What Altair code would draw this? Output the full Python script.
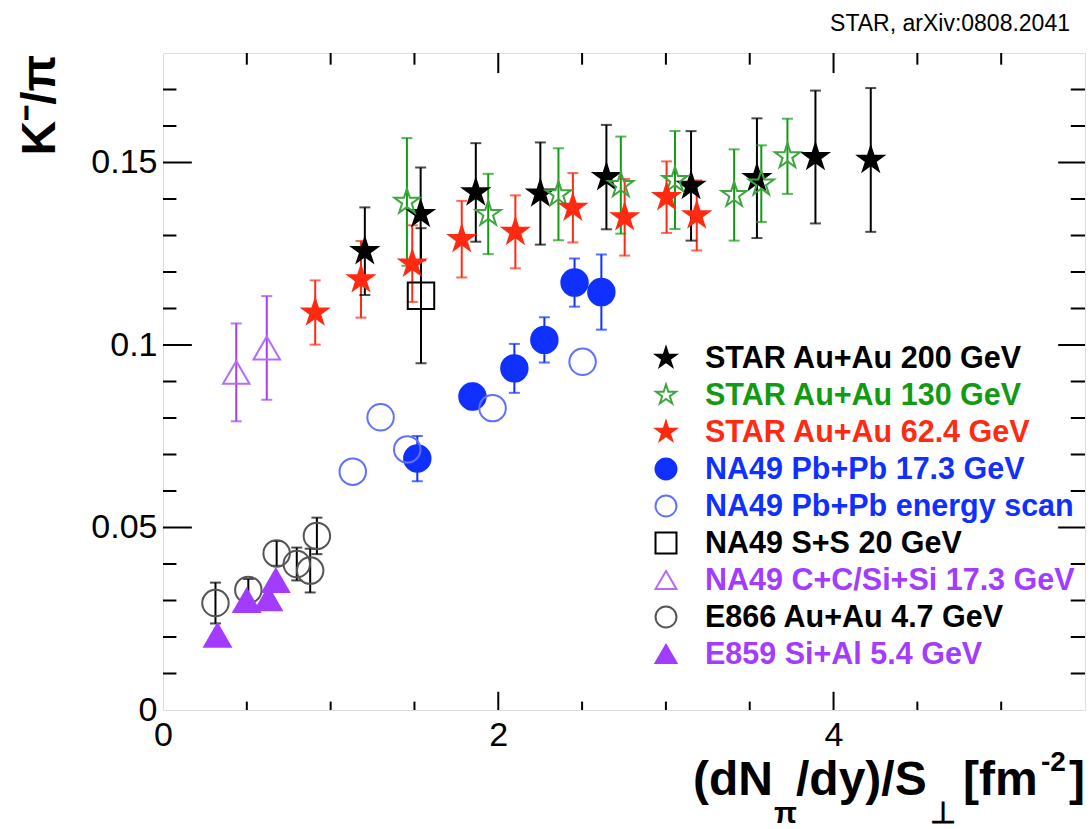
import altair as alt
import pandas as pd

# ---------------- data ----------------
series_names = [
    "STAR Au+Au 200 GeV",
    "STAR Au+Au 130 GeV",
    "STAR Au+Au 62.4 GeV",
    "NA49 Pb+Pb 17.3 GeV",
    "NA49 Pb+Pb energy scan",
    "NA49 S+S 20 GeV",
    "NA49 C+C/Si+Si 17.3 GeV",
    "E866 Au+Au 4.7 GeV",
    "E859 Si+Al 5.4 GeV",
]

star200_x = [1.204, 1.537, 1.866, 2.251, 2.645, 3.150, 3.543, 3.892, 4.222]
star200_y = [0.1257, 0.1359, 0.1418, 0.1415, 0.1460, 0.1436, 0.1457, 0.1515, 0.1507]
star200_e = [0.0120, 0.0127, 0.0135, 0.0140, 0.0143, 0.0150, 0.0164, 0.0182, 0.0197]

star130_x = [1.455, 1.940, 2.359, 2.731, 3.054, 3.407, 3.569, 3.725]
star130_y = [0.1392, 0.1359, 0.1413, 0.1438, 0.1452, 0.1411, 0.1442, 0.1517]
star130_e = [0.0175, 0.0110, 0.0126, 0.0133, 0.0134, 0.0125, 0.0105, 0.0103]

star62_x = [0.908, 1.181, 1.487, 1.782, 2.102, 2.445, 2.754, 3.004, 3.184]
star62_y = [0.1089, 0.1180, 0.1223, 0.1290, 0.1310, 0.1376, 0.1350, 0.1405, 0.1355]
star62_e = [0.0088, 0.0105, 0.0105, 0.0105, 0.0100, 0.0095, 0.0105, 0.0098, 0.0096]

na49pb_x = [1.517, 1.846, 2.096, 2.275, 2.455, 2.615]
na49pb_y = [0.0689, 0.0859, 0.0936, 0.1014, 0.1171, 0.1145]
na49pb_e = [0.0062, 0.0035, 0.0067, 0.0062, 0.0066, 0.0103]

scan_x = [1.132, 1.298, 1.457, 1.966, 2.503]
scan_y = [0.0653, 0.0802, 0.0714, 0.0827, 0.0954]
scan_e = [0, 0, 0, 0, 0]

ss_x = [1.539]
ss_y = [0.1135]
ss_e = [0.0185]

cc_x = [0.437, 0.619]
cc_y = [0.0925, 0.0992]
cc_e = [0.0134, 0.0142]

e866_x = [0.313, 0.509, 0.678, 0.798, 0.878, 0.918]
e866_y = [0.0293, 0.0329, 0.0429, 0.0400, 0.0382, 0.0477]
e866_e = [0.0056, 0.0030, 0.0034, 0.0045, 0.0060, 0.0050]

e859_x = [0.325, 0.499, 0.629, 0.673]
e859_y = [0.0205, 0.0300, 0.0305, 0.0355]
e859_e = [0, 0, 0, 0]

x_label_values = [0, 2, 4]
y_label_values = [0, 0.05, 0.1, 0.15]
x_major_ticks = [2, 4]
x_minor_ticks = [0.5, 1.0, 1.5, 2.5, 3.0, 3.5, 4.5, 5.0]
y_major_ticks = [0.05, 0.10, 0.15]
y_minor_ticks = [0.01, 0.02, 0.03, 0.04, 0.06, 0.07, 0.08, 0.09,
                 0.11, 0.12, 0.13, 0.14, 0.16, 0.17]

# ---------------- styles ----------------
STAR_PATH = ("M0,-1L0.2245,-0.309L0.951,-0.309L0.363,0.118L0.588,0.809L0,0.382"
             "L-0.588,0.809L-0.363,0.118L-0.951,-0.309L-0.2245,-0.309Z")
shapes = [STAR_PATH, STAR_PATH, STAR_PATH, "circle", "circle", "square",
          "triangle-up", "circle", "triangle-up"]
fills = ["#000000", "transparent", "#ff2a12", "#1030ff", "transparent",
         "transparent", "transparent", "transparent", "#a23cff"]
strokes = ["#000000", "#3fa53f", "#ff2a12", "#1030ff", "#6070ff",
           "#000000", "#b46cff", "#555555", "#a23cff"]
sizes = [700, 700, 700, 900, 900, 676, 760, 800, 841]
series_colors = ["#000000", "#139a13", "#ff2a12", "#1030ff", "#1030ff",
                 "#000000", "#a23cff", "#000000", "#a23cff"]

FONT = "Liberation Sans"

# ---------------- table ----------------
groups = [
    (star200_x, star200_y, star200_e), (star130_x, star130_y, star130_e),
    (star62_x, star62_y, star62_e), (na49pb_x, na49pb_y, na49pb_e),
    (scan_x, scan_y, scan_e), (ss_x, ss_y, ss_e), (cc_x, cc_y, cc_e),
    (e866_x, e866_y, e866_e), (e859_x, e859_y, e859_e),
]
rows = []
for name, (xs, ys, es) in zip(series_names, groups):
    for xv, yv, ev in zip(xs, ys, es):
        rows.append({"series": name, "x": xv, "y": yv, "lo": yv - ev,
                     "hi": yv + ev, "err": ev})
df = pd.DataFrame(rows)
err_df = df[df["err"] > 0]

xscale = alt.Scale(domain=[0, 5.5], nice=False, zero=False)
yscale = alt.Scale(domain=[0, 0.18], nice=False, zero=False)

x_axis = alt.Axis(values=x_label_values, title=None, ticks=False, domain=False,
                  grid=False, format="d", labelFont=FONT, labelFontSize=34,
                  labelColor="black", labelPadding=8, labelFlush=False)
y_axis = alt.Axis(values=y_label_values, title=None, ticks=False, domain=False,
                  grid=False, format="~g", labelFont=FONT, labelFontSize=34,
                  labelColor="black", labelPadding=6, labelFlush=False)

color_enc = alt.Color("series:N",
                      scale=alt.Scale(domain=series_names, range=series_colors),
                      legend=None)
shape_enc = alt.Shape("series:N", scale=alt.Scale(domain=series_names, range=shapes),
                      legend=None)
fill_enc = alt.Fill("series:N", scale=alt.Scale(domain=series_names, range=fills),
                    legend=None)
stroke_enc = alt.Stroke("series:N", scale=alt.Scale(domain=series_names, range=strokes),
                        legend=None)

base_err = alt.Chart(err_df)
stems = base_err.mark_rule(strokeWidth=2).encode(
    x=alt.X("x:Q", scale=xscale, axis=x_axis),
    y=alt.Y("lo:Q", scale=yscale, axis=y_axis),
    y2="hi:Q",
    color=color_enc,
)
caps_lo = base_err.mark_tick(orient="horizontal", size=11, thickness=2).encode(
    x="x:Q", y="lo:Q", color=color_enc)
caps_hi = base_err.mark_tick(orient="horizontal", size=11, thickness=2).encode(
    x="x:Q", y="hi:Q", color=color_enc)

points = alt.Chart(df).mark_point(strokeWidth=2, opacity=1).encode(
    x="x:Q",
    y="y:Q",
    shape=shape_enc,
    fill=fill_enc,
    stroke=stroke_enc,
    size=alt.Size("series:N", scale=alt.Scale(domain=series_names, range=sizes),
                  legend=None),
)


# ---------------- inward ticks on all four sides ----------------
def xticks(vals, length, top):
    d = pd.DataFrame({"v": vals})
    if top:
        return alt.Chart(d).mark_rule(color="black", strokeWidth=2).encode(
            x="v:Q", y=alt.datum(0.18), y2=alt.datum(0.18 - length))
    return alt.Chart(d).mark_rule(color="black", strokeWidth=2).encode(
        x="v:Q", y=alt.datum(0), y2=alt.datum(length))


def yticks(vals, length, right):
    d = pd.DataFrame({"v": vals})
    if right:
        return alt.Chart(d).mark_rule(color="black", strokeWidth=2).encode(
            y="v:Q", x=alt.datum(5.5), x2=alt.datum(5.5 - length))
    return alt.Chart(d).mark_rule(color="black", strokeWidth=2).encode(
        y="v:Q", x=alt.datum(0), x2=alt.datum(length))


ticks = [
    xticks(x_major_ticks, 0.0050, False), xticks(x_minor_ticks, 0.0023, False),
    xticks(x_major_ticks, 0.0055, True), xticks(x_minor_ticks, 0.0032, True),
    yticks(y_major_ticks, 0.172, False), yticks(y_minor_ticks, 0.080, False),
    yticks(y_major_ticks, 0.160, True), yticks(y_minor_ticks, 0.085, True),
]

data_layer = alt.layer(stems, caps_lo, caps_hi, points, *ticks)

# ---------------- legend (inside the frame, coloured labels) ----------------
leg_df = pd.DataFrame({"series": series_names})
leg_y = alt.Y("series:N", axis=None,
              scale=alt.Scale(type="point", domain=series_names,
                              range=[305, 601], padding=0))
leg_pts = alt.Chart(leg_df).mark_point(strokeWidth=2, opacity=1, size=440).encode(
    x=alt.value(503), y=leg_y, shape=shape_enc, fill=fill_enc, stroke=stroke_enc)
leg_txt = alt.Chart(leg_df).mark_text(
    align="left", baseline="middle", font=FONT, fontSize=30.5, fontWeight="bold",
    dy=1).encode(x=alt.value(542), y=leg_y, text="series:N", color=color_enc)


# ---------------- titles and annotation ----------------
def txt(s, px, py, size, weight="bold", align="left", angle=0, baseline="alphabetic"):
    kw = dict(font=FONT, fontSize=size, fontWeight=weight, align=align,
              baseline=baseline, color="black")
    if angle:
        kw["angle"] = angle
    return alt.Chart(pd.DataFrame({"t": [s]})).mark_text(**kw).encode(
        text="t:N", x=alt.value(px), y=alt.value(py))


texts = [
    txt("(dN", 530, 742, 48),
    txt("π", 611, 770, 30),
    txt("/dy)/S", 633, 742, 48),
    txt("⊥", 767, 770, 30),
    txt("[fm", 800, 742, 48),
    txt("-2", 878, 718, 28),
    txt("]", 906, 742, 48),
    txt("K⁻/π", -122, 52, 48, angle=270, align="center", baseline="middle"),
    txt("STAR, arXiv:0808.2041", 907, -22, 23, weight="normal", align="right"),
]

chart = alt.layer(data_layer, leg_pts, leg_txt, *texts).resolve_scale(
    y="independent"
).properties(
    width=922, height=657,
    autosize=alt.AutoSizeParams(type="none"),
    padding={"left": 163, "top": 53, "right": 6, "bottom": 119},
).configure_view(stroke="black", strokeWidth=2).configure(background="white")

chart.save("out.html", embed_options={"renderer": "svg", "actions": False})
